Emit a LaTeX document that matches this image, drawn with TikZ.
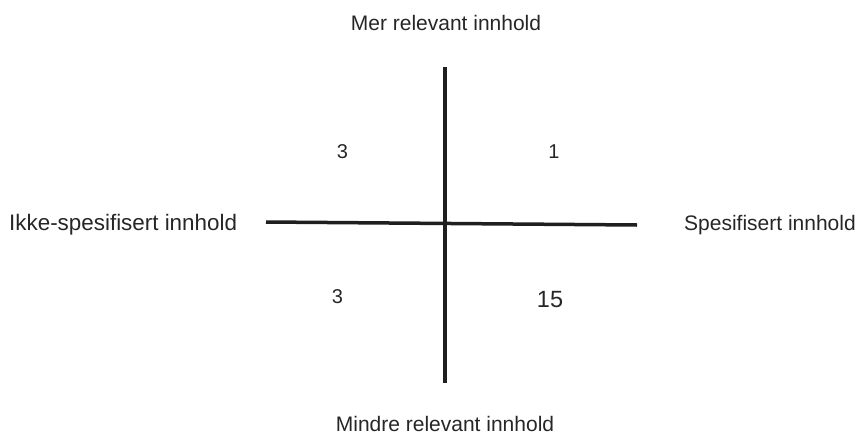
\documentclass[tikz,border=0pt]{standalone}
\usepackage{fontspec}
\setmainfont{Liberation Sans}
\usetikzlibrary{positioning}

\tikzset{
  axis/.style={line width=3.5pt, color=black!88},
  lbl/.style={inner sep=0pt, anchor=base, font=\fontsize{21}{25}\selectfont, text=black!85},
  num/.style={inner sep=0pt, anchor=base, font=\fontsize{20}{24}\selectfont, text=black!85}
}

\begin{document}
\begin{tikzpicture}[x=1pt, y=-1pt]
\useasboundingbox (0,0) rectangle (859,434);
\coordinate (top) at (445,67);
\coordinate (bot) at (445,383);
\coordinate (lft) at (266,222);
\coordinate (rgt) at (637,225);
\draw[axis] (top) -- (bot);
\draw[axis] (lft) -- (rgt);

\node[lbl] (mer) at (446,30) {Mer relevant innhold};
\node[lbl] (mindre) at (445,431) {Mindre relevant innhold};
\node[lbl, anchor=base west, font=\fontsize{22.4}{26}\selectfont] (ikke) at (9,230) {Ikke-spesifisert innhold};
\node[lbl, anchor=base east] (spes) at (856,230) {Spesifisert innhold};

\node[num] (q2) at (342.5,158) {3};
\node[num] (q1) at (554,158) {1};
\node[num] (q3) at (337.5,303) {3};
\node[num, font=\fontsize{23.5}{27}\selectfont] (q4) at (550,307) {15};
\end{tikzpicture}
\end{document}
